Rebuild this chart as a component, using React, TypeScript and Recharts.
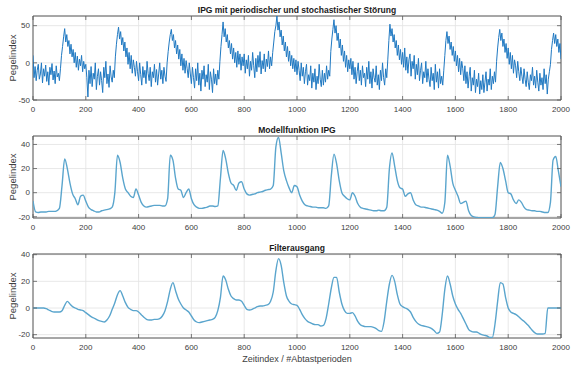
import React from "react";
import {
  LineChart,
  Line,
  XAxis,
  YAxis,
  CartesianGrid,
  ReferenceArea,
} from "recharts";

// sample spacing (Abtastperioden) of the arrays below
const NOISY_STEP = 4;
const STEP = 10;

const xTicks = [0, 200, 400, 600, 800, 1000, 1200, 1400, 1600, 1800, 2000];
const ticksTop = [-50, 0, 50];
const ticksModel = [-20, 0, 20, 40];
const ticksFilter = [-20, 0, 20, 40];

// IPG mit Störung, every 4 samples (one row = 100 samples)
const noisyIpg = [
  10, -20, -5, -24, -10, -2, -22, -15, 0, -27, -8, -18, -3, -25, -12, -30, -6, -16, -1, -23, -11, -28, -4, -19, -14,
  -24, -8, 10, 22, 35, 46, 28, 38, 22, 30, 12, 25, 8, 18, 0, 14, -6, 9, -10, 5, -4, 10, -12, 2, -8,
  -2, -20, -46, -10, -28, -5, -32, -14, -22, 0, -36, -18, -8, -30, -12, -24, -40, -6, -20, 2, -28, -15, -33, -4, -19,
  -26, -10, -20, 8, 25, 38, 48, 32, 42, 24, 34, 16, 28, 8, 20, -2, 14, -8, 10, -14, 4, -6, -18, 2, -12,
  -24, 0, -16, -30, -5, -20, -10, -28, 2, -14, -24, -6, -32, -12, -20, -2, -26, -9, -30, -15, 0, -22, -10, -28, -6,
  -18, -25, 0, 15, 28, 38, 45, 30, 38, 20, 30, 12, 24, 5, 18, -4, 12, -10, 6, -14, 3, -8, -20, 0, -15,
  -28, -6, -20, -34, -8, -24, 0, -30, -14, -38, -10, -22, -4, -32, -16, -26, -2, -36, -12, -22, -40, -8, -28, -15, -30,
  -10, -22, 2, 22, 38, 55, 35, 46, 28, 38, 20, 30, 12, 26, 5, 20, 0, 14, -6, 16, -2, 12, -10, 8, -4,
  12, -14, 4, -8, 10, -18, 2, -10, 14, -4, -20, 6, -12, 10, -6, 15, -15, 3, -8, 12, -12, 5, -5, 16, -8,
  8, -4, 14, 28, 42, 50, 63, 44, 55, 35, 44, 24, 36, 16, 28, 8, 22, 2, 16, -4, 10, -8, 6, -12, 4,
  -16, 2, -10, -24, 0, -18, -6, -28, -12, -2, -30, -16, -24, -4, -34, -14, -26, -8, -36, -18, -28, -2, -22, -32, -10,
  -30, -14, -26, -4, -22, -10, -18, 15, 32, 45, 58, 40, 50, 30, 40, 20, 32, 10, 24, 2, 16, -6, 10, -12, 4,
  -8, 6, -16, 2, -22, -6, -28, -12, 0, -24, -10, -30, -4, -20, -14, -32, -6, -22, 2, -28, -12, -34, -8, -20, -26,
  -4, -30, -16, -36, -10, -24, 0, -20, -30, -8, -20, 5, 30, 52, 36, 46, 28, 38, 20, 30, 10, 24, 4, 18, -2,
  14, -6, 20, -10, 8, -14, 4, 12, -18, 2, -8, 10, -22, -2, -16, 6, -24, -10, 0, -28, -12, -20, 2, -26, -8,
  -22, -32, -6, -24, -14, -36, -2, -26, -12, -34, -8, -28, -18, -30, -10, 10, 30, 42, 26, 36, 18, 28, 10, 22, 2,
  16, -4, 10, -12, 6, -16, 2, -8, -24, -4, -28, -12, -34, -18, -6, -38, -20, -30, -10, -40, -22, -32, -14, -42, -24,
  -36, -16, -40, -26, -12, -38, -22, -30, -8, -36, -18, -28, -12, -26, 2, 20, 34, 45, 30, 40, 22, 32, 14, 26, 6,
  20, -2, 14, -8, 10, -14, 4, -4, -20, 2, -12, -24, -6, -18, -28, -8, -22, -32, -12, -26, -36, -16, -24, -6, -30,
  -18, -34, -10, -26, -38, -14, -30, -20, -36, -8, -28, -16, -42, -22, -12, -2, 18, 30, 40, 26, 38, 22, 32, 14, 26,
  5,
];

// Modellfunktion IPG, every 10 samples
const modelIpg = [
  -7, -16, -16.5, -16, -16, -16, -15.5, -15.5, -15.5, -15,
  -13, 6, 28, 20, 8, -1, -5, -10, -3, -2,
  -7, -12, -14, -15, -16, -16, -15, -14.5, -14, -13.5,
  -12, 0, 31, 25, 12, 3, 0, -3, -4, 3,
  -2, -8, -11, -12, -11.5, -11, -10.5, -10.5, -10.5, -11,
  -11, -5, 31, 27, 12, 3, 2, -4, 0, 3,
  -5, -10, -12, -13, -13, -12.5, -12, -11, -11, -11.5,
  -11, 12, 35, 28, 16, 8, 6, 2, 8, 9,
  3, -1, -2, -1.5, -1, 0, 0.5, 1, 2, 2.5,
  3, 6, 38, 46, 33, 18, 10, 4, 0, 6,
  5, -2, -7, -10, -11, -11.5, -12, -12, -12.5, -12.5,
  -12.5, -13, -11, 14, 32, 24, 10, 0, -3, -5,
  -6, 0, -3, -9, -12, -13, -13.5, -14, -14.5, -15,
  -15, -14.5, -15, -15, -12, 20, 33, 22, 10, 4,
  3, -3, -1, 0, -6, -10, -11, -12, -12, -12.5,
  -13, -13.5, -14, -14.5, -15.5, -17, -8, 31, 22, 8,
  2, -3, -9, -8, -7, -15, -19, -20, -20.5, -20.8,
  -20.8, -20.8, -20.8, -20.8, -20.8, -18, 5, 25, 20, 10,
  0, -1, -6, -9, -6, -8, -12, -14, -14.5, -15,
  -15, -15.5, -15.5, -16, -16.5, -16.5, -8, 27, 30, 18,
  5,
];

// Filterausgang, every 10 samples
const filterOut = [
  0, 0, 0, 0, 0, -0.5, -1.5, -2.5, -3, -3,
  -3, -2, 2, 5, 3, 1, 0, -1, -1.5, -2,
  -3.5, -5, -6.5, -7.5, -8.5, -9.5, -10, -10.5, -9, -6,
  -1, 4, 10, 13, 9, 4, 0.5, -1, -2, -2,
  -3, -5, -7, -8.5, -9, -9, -8.5, -8.5, -8, -6,
  -2, 5, 14, 19, 13, 7, 3, 0, -1.5, -3,
  -6, -9, -10.5, -11, -10.5, -10, -9.5, -9, -8.5, -7,
  -2, 8, 24, 21, 14, 9, 7, 6, 6, 5,
  2, -1, -1.5, -1, 0, 1, 1.5, 1.5, 2, 2.5,
  5, 12, 28, 37, 32, 19, 9, 5, 3, 2.5,
  2, -1, -5, -8, -10, -11, -12, -12.5, -12.5, -13.5,
  -13, -8, 3, 15, 23, 23, 12, 3, -2, -4,
  -4, -3.5, -6, -10, -12.5, -13.5, -14, -14, -14, -14.5,
  -15.5, -17, -17.5, -10, 5, 18, 24.5, 20, 10, 3,
  1, 0, -1, -3, -7, -10, -12, -13, -13.5, -14,
  -14.5, -15.5, -17, -19, -18, -5, 14, 24, 18, 9,
  3, -1, -4, -8, -12, -16, -17.5, -18, -18, -19,
  -20, -20.5, -21, -22, -22, -12, 5, 19, 18, 8,
  0, -3, -4, -5, -6.5, -8.5, -10, -12, -14, -16.5,
  -18.5, -19.5, -19.5, -19.5, -19, 0, 0, 0, 0, 0,
  0,
];

const toRows = (vals: number[], step: number) =>
  vals.map((y, i) => ({ x: i * step, y }));

const FONT = '"Liberation Sans", Arial, Helvetica, sans-serif';
const TEXT = "#404040";
const BOX = "#5a5a5a";
const GRID = "#e2e2e2";
const W = 586;
const PLOT_L = 33;
const PLOT_W = 528;
const PAD = 4;
const AXIS_H = 20;
const Y_MARGIN = 3;

const XTick = (p: any) => {
  const bottom = p.y - 6.5;
  const top = bottom - p.plotH;
  return (
    <g>
      <line x1={p.x} x2={p.x} y1={bottom} y2={bottom - 4} stroke={BOX} strokeWidth={0.8} />
      <line x1={p.x} x2={p.x} y1={top} y2={top + 4} stroke={BOX} strokeWidth={0.8} />
      <text
        x={p.x}
        y={p.y}
        dy="0.71em"
        textAnchor="middle"
        fontSize={8}
        fill={TEXT}
        fontFamily={FONT}
      >
        {p.payload.value}
      </text>
    </g>
  );
};

const YTick = (p: any) => {
  const left = p.x + Y_MARGIN;
  const right = left + PLOT_W;
  return (
    <g>
      <line x1={left} x2={left + 4} y1={p.y} y2={p.y} stroke={BOX} strokeWidth={0.8} />
      <line x1={right - 4} x2={right} y1={p.y} y2={p.y} stroke={BOX} strokeWidth={0.8} />
      <text
        x={p.x}
        y={p.y}
        dy="0.34em"
        textAnchor="end"
        fontSize={8}
        fill={TEXT}
        fontFamily={FONT}
      >
        {p.payload.value}
      </text>
    </g>
  );
};

type PanelProps = {
  title: string;
  data: { x: number; y: number }[];
  yDomain: [number, number];
  yTicks: number[];
  color: string;
  strokeWidth: number;
  curve: "linear" | "monotone";
  plotTop: number;
  plotH: number;
};

const Panel = ({ title, data, yDomain, yTicks, color, strokeWidth, curve, plotTop, plotH }: PanelProps) => (
  <>
    <div style={{ position: "absolute", left: 0, top: plotTop - PAD }}>
      <LineChart
        width={W}
        height={PAD + plotH + AXIS_H}
        data={data}
        margin={{ top: PAD, right: W - PLOT_L - PLOT_W, bottom: 0, left: Y_MARGIN }}
      >
        <CartesianGrid stroke={GRID} strokeWidth={0.8} />
        <XAxis
          dataKey="x"
          type="number"
          domain={[0, 2000]}
          ticks={xTicks}
          interval={0}
          allowDataOverflow
          height={AXIS_H}
          axisLine={false}
          tickLine={false}
          tickSize={0}
          tickMargin={6.5}
          tick={(p: any) => <XTick {...p} plotH={plotH} />}
        />
        <YAxis
          type="number"
          domain={yDomain}
          ticks={yTicks}
          interval={0}
          allowDataOverflow
          width={PLOT_L - Y_MARGIN}
          axisLine={false}
          tickLine={false}
          tickSize={0}
          tickMargin={Y_MARGIN}
          tick={(p: any) => <YTick {...p} />}
        />
        <Line
          dataKey="y"
          type={curve}
          stroke={color}
          strokeWidth={strokeWidth}
          strokeLinejoin="round"
          dot={false}
          isAnimationActive={false}
        />
        <ReferenceArea
          x1={0}
          x2={2000}
          y1={yDomain[0]}
          y2={yDomain[1]}
          fill="none"
          stroke={BOX}
          strokeWidth={1}
          ifOverflow="visible"
        />
      </LineChart>
    </div>
    <div
      style={{
        position: "absolute",
        left: PLOT_L,
        width: PLOT_W,
        top: plotTop - 10.5,
        textAlign: "center",
        fontFamily: FONT,
        fontWeight: "bold",
        fontSize: 8.5,
        lineHeight: "9px",
        color: "#1a1a1a",
        whiteSpace: "nowrap",
      }}
    >
      {title}
    </div>
    <div
      style={{
        position: "absolute",
        left: 12.7 - 40,
        width: 80,
        top: plotTop + plotH / 2 - 6,
        height: 12,
        lineHeight: "12px",
        textAlign: "center",
        transform: "rotate(-90deg)",
        fontFamily: FONT,
        fontSize: 9.5,
        color: TEXT,
      }}
    >
      Pegelindex
    </div>
  </>
);

export default function App() {
  return (
    <div
      style={{
        position: "absolute",
        left: 0,
        top: 0,
        width: W,
        height: 369,
        background: "#ffffff",
        overflow: "hidden",
      }}
    >
      <Panel
        title="IPG mit periodischer und stochastischer Störung"
        data={toRows(noisyIpg, NOISY_STEP)}
        yDomain={[-50, 63]}
        yTicks={ticksTop}
        color="#2079c2"
        strokeWidth={1}
        curve="linear"
        plotTop={16}
        plotH={84}
      />
      <Panel
        title="Modellfunktion IPG"
        data={toRows(modelIpg, STEP)}
        yDomain={[-21, 47]}
        yTicks={ticksModel}
        color="#5aa5cd"
        strokeWidth={1.4}
        curve="monotone"
        plotTop={136}
        plotH={82}
      />
      <Panel
        title="Filterausgang"
        data={toRows(filterOut, STEP)}
        yDomain={[-22.5, 40.5]}
        yTicks={ticksFilter}
        color="#5aa5cd"
        strokeWidth={1.4}
        curve="monotone"
        plotTop={254}
        plotH={84}
      />
      <div
        style={{
          position: "absolute",
          left: PLOT_L,
          width: PLOT_W,
          top: 354,
          textAlign: "center",
          fontFamily: FONT,
          fontSize: 9,
          lineHeight: "10px",
          color: TEXT,
        }}
      >
        Zeitindex / #Abtastperioden
      </div>
    </div>
  );
}
